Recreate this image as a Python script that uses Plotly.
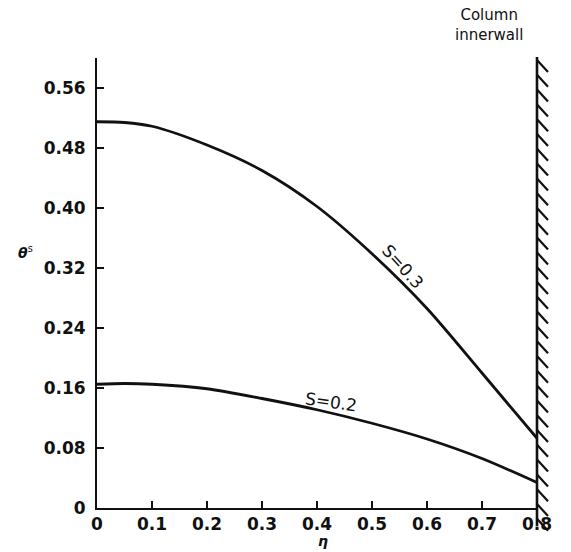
import plotly.graph_objects as go

# Dimensionless radial position and temperature profiles for two values of S
eta = [0.0, 0.05, 0.1, 0.2, 0.3, 0.4, 0.5, 0.6, 0.7, 0.8]
theta_s03 = [0.515, 0.514, 0.509, 0.484, 0.450, 0.402, 0.339, 0.266, 0.180, 0.093]
theta_s02 = [0.165, 0.166, 0.165, 0.159, 0.146, 0.131, 0.113, 0.092, 0.066, 0.034]

x_ticks = [0, 0.1, 0.2, 0.3, 0.4, 0.5, 0.6, 0.7, 0.8]
x_ticktext = ["0", "0.1", "0.2", "0.3", "0.4", "0.5", "0.6", "0.7", "0.8"]
y_ticks = [0, 0.08, 0.16, 0.24, 0.32, 0.40, 0.48, 0.56]
y_ticktext = ["0", "0.08", "0.16", "0.24", "0.32", "0.40", "0.48", "0.56"]

FONT = "DejaVu Sans"
INK = "#111111"

fig = go.Figure()
for ys in (theta_s03, theta_s02):
    fig.add_trace(go.Scatter(
        x=eta, y=ys, mode="lines",
        line=dict(color=INK, width=2.8, shape="spline", smoothing=0.8),
        showlegend=False, hoverinfo="skip",
    ))

W, H = 571, 552
ML, MR, MT, MB = 97, 34, 58, 44
pw, ph = W - ML - MR, H - MT - MB


def px_to_paper(px, py):
    return (px - ML) / pw, (H - MB - py) / ph


shapes = []
# column inner wall at eta = 0.8 with hatching
wx = ML + pw
x0, y0 = px_to_paper(wx, 57)
x1, y1 = px_to_paper(wx, 526)
shapes.append(dict(type="line", xref="paper", yref="paper", x0=x0, y0=y0, x1=x1, y1=y1,
                   line=dict(color=INK, width=2.6)))
py = 60
while py < 522:
    a = px_to_paper(wx, py)
    b = px_to_paper(wx + 11, py + 12)
    shapes.append(dict(type="line", xref="paper", yref="paper", x0=a[0], y0=a[1], x1=b[0], y1=b[1],
                       line=dict(color=INK, width=2.2)))
    py += 14.8

annotations = [
    dict(text="S=0.3", x=0.557, y=0.322, xref="x", yref="y", showarrow=False, textangle=48,
         font=dict(family=FONT, size=17, color=INK)),
    dict(text="S=0.2", x=0.425, y=0.141, xref="x", yref="y", showarrow=False, textangle=8,
         font=dict(family=FONT, size=17, color=INK)),
    dict(text="Column<br>innerwall", x=px_to_paper(525, 0)[0], y=px_to_paper(0, 4)[1],
         xref="paper", yref="paper", showarrow=False, yanchor="top", align="center",
         font=dict(family=FONT, size=15, color=INK)),
    dict(text="<i><b>η</b></i>", x=px_to_paper(323, 0)[0], y=px_to_paper(0, 551)[1],
         xref="paper", yref="paper", showarrow=False, yanchor="bottom",
         font=dict(family=FONT, size=14, color=INK)),
    dict(text="<i><b>θ</b></i><sup>s</sup>", x=px_to_paper(16, 0)[0], y=px_to_paper(0, 252)[1],
         xref="paper", yref="paper", showarrow=False,
         font=dict(family=FONT, size=14, color=INK)),
]

tickfont = dict(family=FONT, size=17, color=INK, weight="bold")

fig.update_layout(
    width=W, height=H,
    margin=dict(l=ML, r=MR, t=MT, b=MB),
    paper_bgcolor="white", plot_bgcolor="white",
    font=dict(family=FONT, color=INK),
    shapes=shapes, annotations=annotations,
    xaxis=dict(range=[0, 0.8], tickvals=x_ticks, ticktext=x_ticktext,
               ticks="inside", ticklen=7, tickwidth=2, tickcolor=INK,
               showline=True, linecolor=INK, linewidth=2, showgrid=False, zeroline=False,
               ticklabelstandoff=0, tickfont=tickfont),
    yaxis=dict(range=[0, 0.6], tickvals=y_ticks, ticktext=y_ticktext,
               ticks="inside", ticklen=7, tickwidth=2, tickcolor=INK,
               showline=True, linecolor=INK, linewidth=2, showgrid=False, zeroline=False,
               ticklabelstandoff=6, tickfont=tickfont),
)

fig.write_html("out.html")
